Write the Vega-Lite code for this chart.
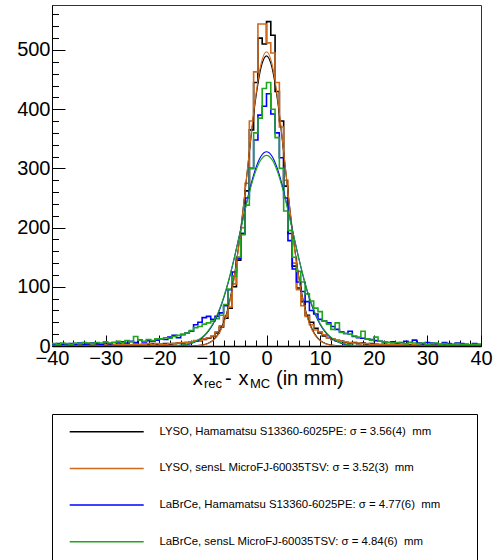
{
  "$schema": "https://vega.github.io/schema/vega-lite/v6.json",
  "width": 429,
  "height": 341,
  "padding": {"left": 16, "top": 5, "right": 5, "bottom": 0},
  "background": "white",
  "config": {
    "view": {"stroke": "#333333", "strokeWidth": 1},
    "font": "Liberation Sans",
    "axis": {"labelFont": "Liberation Sans", "grid": false, "domainColor": "black", "tickColor": "black", "labelColor": "black", "labelFlush": false, "labelOverlap": false}
  },
  "datasets": {
    "hist": [
      {"x":-40,"k":1,"o":2,"b":3,"g":4},
      {"x":-39.2,"k":2,"o":1,"b":4,"g":3},
      {"x":-38.4,"k":1,"o":2,"b":3,"g":5},
      {"x":-37.6,"k":2,"o":1,"b":2,"g":4},
      {"x":-36.8,"k":1,"o":2,"b":4,"g":3},
      {"x":-36,"k":1,"o":2,"b":3,"g":5},
      {"x":-35.2,"k":2,"o":1,"b":5,"g":4},
      {"x":-34.4,"k":1,"o":2,"b":3,"g":6},
      {"x":-33.6,"k":2,"o":1,"b":4,"g":5},
      {"x":-32.8,"k":1,"o":2,"b":5,"g":4},
      {"x":-32,"k":2,"o":1,"b":4,"g":6},
      {"x":-31.2,"k":1,"o":2,"b":3,"g":5},
      {"x":-30.4,"k":2,"o":2,"b":5,"g":7},
      {"x":-29.6,"k":2,"o":1,"b":4,"g":5},
      {"x":-28.8,"k":1,"o":2,"b":6,"g":6},
      {"x":-28,"k":2,"o":2,"b":5,"g":8},
      {"x":-27.2,"k":3,"o":2,"b":7,"g":6},
      {"x":-26.4,"k":2,"o":3,"b":5,"g":9},
      {"x":-25.6,"k":2,"o":2,"b":8,"g":7},
      {"x":-24.8,"k":3,"o":3,"b":6,"g":16},
      {"x":-24,"k":2,"o":3,"b":10,"g":10},
      {"x":-23.2,"k":3,"o":2,"b":7,"g":8},
      {"x":-22.4,"k":3,"o":4,"b":9,"g":11},
      {"x":-21.6,"k":4,"o":3,"b":8,"g":9},
      {"x":-20.8,"k":3,"o":4,"b":10,"g":12},
      {"x":-20,"k":3,"o":3,"b":12,"g":12},
      {"x":-19.2,"k":4,"o":3,"b":11,"g":14},
      {"x":-18.4,"k":3,"o":4,"b":15,"g":13},
      {"x":-17.6,"k":4,"o":4,"b":18,"g":16},
      {"x":-16.8,"k":5,"o":5,"b":14,"g":18},
      {"x":-16,"k":5,"o":6,"b":19,"g":20},
      {"x":-15.2,"k":6,"o":6,"b":22,"g":22},
      {"x":-14.4,"k":7,"o":7,"b":25,"g":26},
      {"x":-13.6,"k":8,"o":9,"b":36,"g":31},
      {"x":-12.8,"k":9,"o":10,"b":40,"g":33},
      {"x":-12,"k":11,"o":12,"b":48,"g":37},
      {"x":-11.2,"k":13,"o":14,"b":50,"g":39},
      {"x":-10.4,"k":16,"o":17,"b":45,"g":42},
      {"x":-9.6,"k":22,"o":24,"b":50,"g":46},
      {"x":-8.8,"k":32,"o":34,"b":56,"g":52},
      {"x":-8,"k":47,"o":50,"b":68,"g":70},
      {"x":-7.2,"k":64,"o":66,"b":95,"g":96},
      {"x":-6.4,"k":100,"o":105,"b":125,"g":118},
      {"x":-5.6,"k":145,"o":150,"b":148,"g":150},
      {"x":-4.8,"k":190,"o":200,"b":190,"g":188},
      {"x":-4,"k":262,"o":275,"b":250,"g":238},
      {"x":-3.2,"k":365,"o":380,"b":300,"g":300},
      {"x":-2.4,"k":445,"o":463,"b":348,"g":360},
      {"x":-1.6,"k":520,"o":544,"b":390,"g":385},
      {"x":-0.8,"k":510,"o":544,"b":405,"g":435},
      {"x":0,"k":548,"o":512,"b":426,"g":445},
      {"x":0.8,"k":525,"o":495,"b":392,"g":400},
      {"x":1.6,"k":430,"o":445,"b":360,"g":352},
      {"x":2.4,"k":380,"o":370,"b":318,"g":300},
      {"x":3.2,"k":270,"o":280,"b":250,"g":228},
      {"x":4,"k":190,"o":195,"b":178,"g":195},
      {"x":4.8,"k":135,"o":140,"b":130,"g":150},
      {"x":5.6,"k":98,"o":95,"b":108,"g":126},
      {"x":6.4,"k":75,"o":68,"b":92,"g":108},
      {"x":7.2,"k":52,"o":50,"b":75,"g":88},
      {"x":8,"k":40,"o":36,"b":60,"g":76},
      {"x":8.8,"k":30,"o":27,"b":54,"g":64},
      {"x":9.6,"k":22,"o":24,"b":45,"g":58},
      {"x":10.4,"k":17,"o":19,"b":42,"g":42},
      {"x":11.2,"k":14,"o":14,"b":39,"g":37},
      {"x":12,"k":11,"o":12,"b":33,"g":28},
      {"x":12.8,"k":9,"o":10,"b":28,"g":39},
      {"x":13.6,"k":8,"o":8,"b":24,"g":23},
      {"x":14.4,"k":6,"o":7,"b":21,"g":21},
      {"x":15.2,"k":5,"o":6,"b":25,"g":20},
      {"x":16,"k":6,"o":5,"b":16,"g":17},
      {"x":16.8,"k":4,"o":5,"b":14,"g":15},
      {"x":17.6,"k":5,"o":4,"b":13,"g":25},
      {"x":18.4,"k":3,"o":4,"b":12,"g":12},
      {"x":19.2,"k":4,"o":3,"b":11,"g":10},
      {"x":20,"k":3,"o":3,"b":9,"g":15},
      {"x":20.8,"k":2,"o":3,"b":8,"g":8},
      {"x":21.6,"k":3,"o":2,"b":7,"g":7},
      {"x":22.4,"k":2,"o":2,"b":6,"g":6},
      {"x":23.2,"k":2,"o":3,"b":7,"g":5},
      {"x":24,"k":3,"o":2,"b":5,"g":6},
      {"x":24.8,"k":2,"o":2,"b":6,"g":5},
      {"x":25.6,"k":1,"o":2,"b":8,"g":4},
      {"x":26.4,"k":2,"o":1,"b":6,"g":6},
      {"x":27.2,"k":2,"o":2,"b":10,"g":5},
      {"x":28,"k":1,"o":2,"b":5,"g":4},
      {"x":28.8,"k":2,"o":1,"b":4,"g":5},
      {"x":29.6,"k":1,"o":2,"b":6,"g":3},
      {"x":30.4,"k":2,"o":1,"b":5,"g":4},
      {"x":31.2,"k":1,"o":2,"b":4,"g":5},
      {"x":32,"k":1,"o":1,"b":3,"g":3},
      {"x":32.8,"k":2,"o":1,"b":6,"g":4},
      {"x":33.6,"k":1,"o":2,"b":4,"g":3},
      {"x":34.4,"k":2,"o":1,"b":3,"g":2},
      {"x":35.2,"k":1,"o":1,"b":5,"g":4},
      {"x":36,"k":1,"o":2,"b":4,"g":3},
      {"x":36.8,"k":2,"o":1,"b":3,"g":3},
      {"x":37.6,"k":1,"o":1,"b":2,"g":2},
      {"x":38.4,"k":1,"o":2,"b":4,"g":3},
      {"x":39.2,"k":2,"o":1,"b":3,"g":2},
      {"x":40,"k":2,"o":1,"b":3,"g":2}
    ],
    "fit": [
      {"x":-40,"k":0,"o":0,"b":0,"g":0},
      {"x":-20,"k":0,"o":0,"b":0,"g":0},
      {"x":-19,"k":0,"o":0,"b":0.1,"g":0.1},
      {"x":-18,"k":0,"o":0,"b":0.3,"g":0.3},
      {"x":-17,"k":0,"o":0,"b":0.6,"g":0.7},
      {"x":-16,"k":0,"o":0,"b":1.2,"g":1.4},
      {"x":-15,"k":0.1,"o":0.1,"b":2.3,"g":2.6},
      {"x":-14,"k":0.2,"o":0.2,"b":4.4,"g":4.9},
      {"x":-13,"k":0.6,"o":0.5,"b":8.0,"g":8.7},
      {"x":-12,"k":1.7,"o":1.5,"b":13.9,"g":14.9},
      {"x":-11,"k":4.1,"o":3.8,"b":23.0,"g":24.3},
      {"x":-10,"k":9.5,"o":8.8,"b":36.4,"g":38.1},
      {"x":-9,"k":20.1,"o":18.9,"b":55.3,"g":57.2},
      {"x":-8,"k":39.2,"o":37.6,"b":80.4,"g":82.1},
      {"x":-7,"k":70.9,"o":68.8,"b":111.8,"g":113.2},
      {"x":-6,"k":118.4,"o":116.3,"b":148.7,"g":149.3},
      {"x":-5,"k":182.8,"o":181.2,"b":189.4,"g":188.9},
      {"x":-4,"k":260.7,"o":260.6,"b":230.8,"g":228.8},
      {"x":-3,"k":343.6,"o":345.6,"b":269.2,"g":265.7},
      {"x":-2,"k":418.5,"o":423.0,"b":300.4,"g":295.7},
      {"x":-1,"k":471.0,"o":477.3,"b":320.9,"g":315.2},
      {"x":0,"k":490,"o":497,"b":328,"g":322},
      {"x":1,"k":471.0,"o":477.3,"b":320.9,"g":315.2},
      {"x":2,"k":418.5,"o":423.0,"b":300.4,"g":295.7},
      {"x":3,"k":343.6,"o":345.6,"b":269.2,"g":265.7},
      {"x":4,"k":260.7,"o":260.6,"b":230.8,"g":228.8},
      {"x":5,"k":182.8,"o":181.2,"b":189.4,"g":188.9},
      {"x":6,"k":118.4,"o":116.3,"b":148.7,"g":149.3},
      {"x":7,"k":70.9,"o":68.8,"b":111.8,"g":113.2},
      {"x":8,"k":39.2,"o":37.6,"b":80.4,"g":82.1},
      {"x":9,"k":20.1,"o":18.9,"b":55.3,"g":57.2},
      {"x":10,"k":9.5,"o":8.8,"b":36.4,"g":38.1},
      {"x":11,"k":4.1,"o":3.8,"b":23.0,"g":24.3},
      {"x":12,"k":1.7,"o":1.5,"b":13.9,"g":14.9},
      {"x":13,"k":0.6,"o":0.5,"b":8.0,"g":8.7},
      {"x":14,"k":0.2,"o":0.2,"b":4.4,"g":4.9},
      {"x":15,"k":0.1,"o":0.1,"b":2.3,"g":2.6},
      {"x":16,"k":0,"o":0,"b":1.2,"g":1.4},
      {"x":17,"k":0,"o":0,"b":0.6,"g":0.7},
      {"x":18,"k":0,"o":0,"b":0.3,"g":0.3},
      {"x":19,"k":0,"o":0,"b":0.1,"g":0.1},
      {"x":20,"k":0,"o":0,"b":0,"g":0},
      {"x":40,"k":0,"o":0,"b":0,"g":0}
    ]
  },
  "resolve": {"axis": {"x": "independent", "y": "independent"}},
  "layer": [
    {
      "data": {"name": "hist"},
      "transform": [{"fold": ["k", "o", "b", "g"], "as": ["s", "n"]}],
      "mark": {"type": "line", "interpolate": "step-after", "strokeWidth": 1.6, "clip": true},
      "encoding": {
        "x": {"field": "x", "type": "quantitative",
          "scale": {"domain": [-40, 40], "nice": false, "zero": false},
          "axis": {"orient": "bottom", "title": null, "values": [-40, -30, -20, -10, 0, 10, 20, 30, 40], "tickSize": -11, "labelPadding": 13, "labelFontSize": 20, "domainWidth": 1.5, "tickWidth": 1}},
        "y": {"field": "n", "type": "quantitative",
          "scale": {"domain": [0, 576], "nice": false},
          "axis": {"orient": "left", "title": null, "values": [0, 100, 200, 300, 400, 500], "tickSize": -13, "labelPadding": 15, "labelFontSize": 20, "domainWidth": 1, "tickWidth": 1}},
        "color": {"field": "s", "type": "nominal",
          "scale": {"domain": ["k", "o", "b", "g"], "range": ["#000000", "#cf6a1d", "#0000ff", "#1fa51f"]},
          "legend": {
            "orient": "none", "legendX": 0, "legendY": 409, "title": null,
            "symbolType": "M0,0H20", "symbolSize": 54.76, "symbolStrokeWidth": 1.5,
            "labelOffset": 84, "labelFontSize": 11.4, "labelFont": "Liberation Sans", "labelColor": "black", "labelLimit": 0,
            "padding": 12, "rowPadding": 23.7, "strokeColor": "black", "fillColor": "white",
            "labelExpr": "datum.value == 'k' ? 'LYSO, Hamamatsu S13360-6025PE: σ = 3.56(4)\u00a0 mm' : datum.value == 'o' ? 'LYSO, sensL MicroFJ-60035TSV: σ = 3.52(3)\u00a0 mm' : datum.value == 'b' ? 'LaBrCe, Hamamatsu S13360-6025PE: σ = 4.77(6)\u00a0 mm\u2800\u2800\u2800' : 'LaBrCe, sensL MicroFJ-60035TSV: σ = 4.84(6)\u00a0 mm'"
          }}
      }
    },
    {
      "data": {"name": "fit"},
      "transform": [{"fold": ["k", "o", "b", "g"], "as": ["s", "n"]}],
      "mark": {"type": "line", "interpolate": "monotone", "strokeWidth": 1.1, "clip": true},
      "encoding": {
        "x": {"field": "x", "type": "quantitative",
          "axis": {"orient": "bottom", "title": null, "labels": false, "domain": false, "tickSize": -6, "tickWidth": 1,
            "values": [-38, -36, -34, -32, -28, -26, -24, -22, -18, -16, -14, -12, -8, -6, -4, -2, 2, 4, 6, 8, 12, 14, 16, 18, 22, 24, 26, 28, 32, 34, 36, 38]}},
        "y": {"field": "n", "type": "quantitative",
          "axis": {"orient": "left", "title": null, "labels": false, "domain": false, "tickSize": -6.5, "tickWidth": 1,
            "values": [20, 40, 60, 80, 120, 140, 160, 180, 220, 240, 260, 280, 320, 340, 360, 380, 420, 440, 460, 480, 520, 540, 560]}},
        "color": {"field": "s", "type": "nominal"}
      }
    },
    {
      "data": {"values": [{}]},
      "mark": {"type": "text", "text": "x", "align": "left", "baseline": "alphabetic", "dy": 39, "fontSize": 20, "font": "Liberation Sans", "color": "black"},
      "encoding": {"x": {"datum": -13.76, "type": "quantitative", "axis": null}, "y": {"datum": 0, "type": "quantitative", "axis": null}}
    },
    {
      "data": {"values": [{}]},
      "mark": {"type": "text", "text": "rec", "align": "left", "baseline": "alphabetic", "dy": 42, "fontSize": 13, "font": "Liberation Sans", "color": "black"},
      "encoding": {"x": {"datum": -11.65, "type": "quantitative", "axis": null}, "y": {"datum": 0, "type": "quantitative", "axis": null}}
    },
    {
      "data": {"values": [{}]},
      "mark": {"type": "text", "text": "-", "align": "left", "baseline": "alphabetic", "dy": 39, "fontSize": 20, "font": "Liberation Sans", "color": "black"},
      "encoding": {"x": {"datum": -7.74, "type": "quantitative", "axis": null}, "y": {"datum": 0, "type": "quantitative", "axis": null}}
    },
    {
      "data": {"values": [{}]},
      "mark": {"type": "text", "text": "x", "align": "left", "baseline": "alphabetic", "dy": 39, "fontSize": 20, "font": "Liberation Sans", "color": "black"},
      "encoding": {"x": {"datum": -5.22, "type": "quantitative", "axis": null}, "y": {"datum": 0, "type": "quantitative", "axis": null}}
    },
    {
      "data": {"values": [{}]},
      "mark": {"type": "text", "text": "MC", "align": "left", "baseline": "alphabetic", "dy": 42, "fontSize": 13, "font": "Liberation Sans", "color": "black"},
      "encoding": {"x": {"datum": -3.08, "type": "quantitative", "axis": null}, "y": {"datum": 0, "type": "quantitative", "axis": null}}
    },
    {
      "data": {"values": [{}]},
      "mark": {"type": "text", "text": "(in mm)", "align": "left", "baseline": "alphabetic", "dy": 39, "fontSize": 20, "font": "Liberation Sans", "color": "black"},
      "encoding": {"x": {"datum": 1.77, "type": "quantitative", "axis": null}, "y": {"datum": 0, "type": "quantitative", "axis": null}}
    }
  ]
}
